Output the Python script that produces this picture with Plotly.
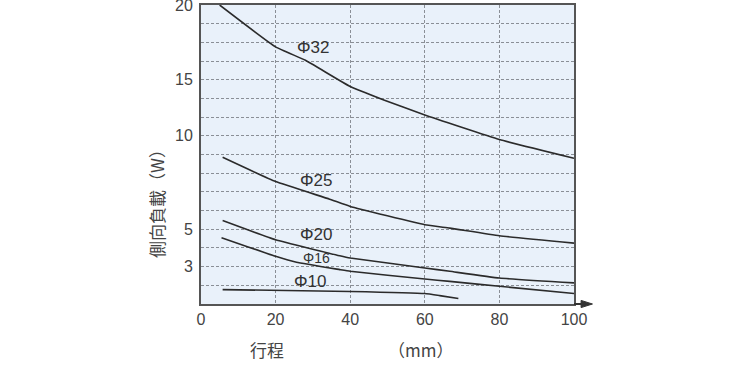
import numpy as np
import plotly.graph_objects as go

# ---- data ----
stroke_32 = [5, 20, 28, 40, 49, 60, 80, 100]
load_32 = [20, 17.2, 16.3, 14.4, 13.2, 11.85, 9.8, 8.8]
stroke_25 = [5.8, 20, 34.5, 40, 60, 66.7, 80, 100]
load_25 = [8.85, 7.55, 6.61, 6.22, 5.24, 5.06, 4.65, 4.26]
stroke_20 = [5.8, 20, 37.2, 40, 60, 66.7, 80, 100]
load_20 = [5.47, 4.44, 3.58, 3.46, 2.93, 2.75, 2.39, 2.13]
stroke_16 = [5.5, 20, 25.6, 37.2, 40, 60, 66.7, 80, 100]
load_16 = [4.55, 3.55, 3.23, 2.84, 2.75, 2.34, 2.21, 1.95, 1.56]
stroke_10 = [5.8, 40, 60, 64, 69]
load_10 = [1.77, 1.67, 1.56, 1.45, 1.29]

series_names = ["Φ32", "Φ25", "Φ20", "Φ16", "Φ10"]
x_ticks = [0, 20, 40, 60, 80, 100]
y_tick_labels = [3, 5, 10, 15, 20]

# nonlinear load scale of the original chart: load value -> grid row
load_breaks = [1, 3, 5, 10, 15, 20]
row_breaks = [0, 2, 4, 9, 12, 16]


def to_row(v):
    return np.interp(v, load_breaks, row_breaks)


series = [
    (stroke_32, load_32),
    (stroke_25, load_25),
    (stroke_20, load_20),
    (stroke_16, load_16),
    (stroke_10, load_10),
]

line_col = "#2b2b2b"
text_col = "#444444"
font_fam = "Liberation Sans, Arial, sans-serif"
cjk_fam = "Noto Sans CJK TC, Noto Sans CJK SC, sans-serif"

fig = go.Figure()
for name, (xs, ys) in zip(series_names, series):
    fig.add_trace(go.Scatter(
        x=xs, y=to_row(np.array(ys)), mode="lines", name=name,
        line=dict(color=line_col, width=1.6, shape="spline", smoothing=0.35),
        showlegend=False, hoverinfo="skip",
    ))

# curve labels (x in stroke units, y in load units)
label_pos = [(30.0, 17.15, 17), (30.7, 7.62, 17), (30.9, 4.7, 17), (30.9, 3.44, 14), (29.2, 2.2, 17)]
for name, (lx, ly, fs) in zip(series_names, label_pos):
    fig.add_annotation(x=lx, y=float(to_row(ly)), text=name, showarrow=False,
                       font=dict(size=fs, color="#333333", family=font_fam),
                       xanchor="center", yanchor="middle")

n_rows = int(row_breaks[-1])
row_vals = list(range(0, n_rows + 1))
row_text = []
for r in row_vals:
    lbl = ""
    for t in y_tick_labels:
        if abs(float(to_row(t)) - r) < 1e-6:
            lbl = str(t)
    row_text.append(lbl)

fig.update_layout(
    width=750, height=374,
    margin=dict(l=201, r=175.5, t=4.7, b=69.6, autoexpand=False),
    paper_bgcolor="white",
    plot_bgcolor="#e9f1fa",
    font=dict(family=font_fam, color=text_col),
    xaxis=dict(
        range=[0, 100], tickvals=x_ticks, ticktext=[str(v) for v in x_ticks],
        showgrid=True, gridcolor="#8a8f96", griddash="3px,2px", gridwidth=1,
        showline=True, linecolor="#555555", linewidth=2, mirror=True,
        ticks="", tickfont=dict(size=16, color=text_col), zeroline=False,
        fixedrange=True, automargin=False, ticklabeloverflow="allow",
    ),
    yaxis=dict(
        range=[0, n_rows], tickvals=row_vals, ticktext=row_text,
        showgrid=True, gridcolor="#8a8f96", griddash="3px,2px", gridwidth=1,
        showline=True, linecolor="#555555", linewidth=2, mirror=True,
        ticks="", tickfont=dict(size=16, color=text_col), zeroline=False,
        ticklabelstandoff=3, fixedrange=True, automargin=False,
        ticklabeloverflow="allow",
    ),
)

# axis extension with arrow head
fig.add_shape(type="line", xref="paper", yref="paper", x0=1.0, x1=1.03, y0=0, y1=0,
              line=dict(color="#333333", width=2))
fig.add_shape(type="path", xref="paper", yref="paper",
              path="M 1.019 0.012 L 1.0495 0 L 1.019 -0.012 Z",
              fillcolor="#333333", line=dict(color="#333333", width=1))

# axis titles
fig.add_annotation(xref="paper", yref="paper", x=(267 - 201) / 373.5, y=-(350 - 304.4) / 299.7,
                   text="行程", showarrow=False, font=dict(size=17, color=text_col, family=cjk_fam),
                   xanchor="center", yanchor="middle")
fig.add_annotation(xref="paper", yref="paper", x=(421 - 201) / 373.5, y=-(350 - 304.4) / 299.7,
                   text="（mm）", showarrow=False, font=dict(size=17, color=text_col, family=cjk_fam),
                   xanchor="center", yanchor="middle")
fig.add_annotation(xref="paper", yref="paper", x=(157 - 201) / 373.5, y=(304.4 - 200) / 299.7,
                   text="側向負載（W）", showarrow=False, textangle=-90,
                   font=dict(size=17, color=text_col, family=cjk_fam),
                   xanchor="center", yanchor="middle")

fig.write_html("out.html", config={"displayModeBar": False},
               post_script="document.body.style.margin='0';document.body.style.overflow='hidden';")
